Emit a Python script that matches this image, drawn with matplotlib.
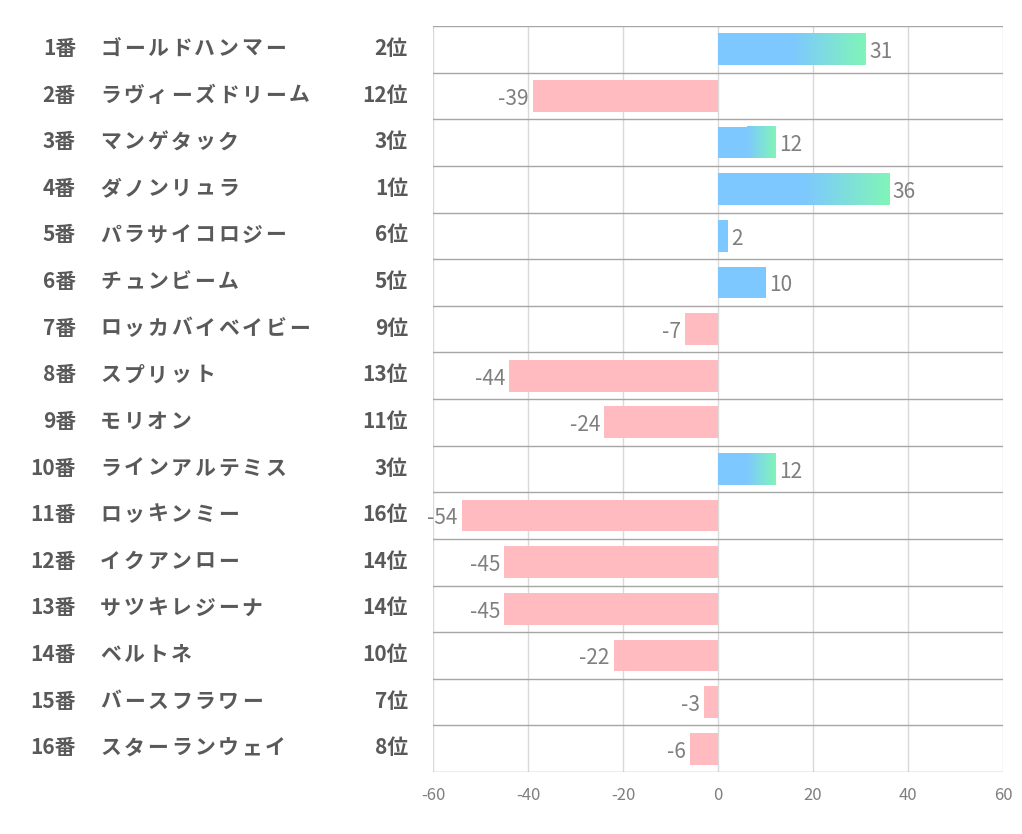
import numpy as np
import matplotlib.pyplot as plt
from matplotlib.colors import LinearSegmentedColormap
from matplotlib.transforms import offset_copy

plt.rcParams['font.family'] = ['Noto Sans CJK JP', 'DejaVu Sans']
plt.rcParams['axes.unicode_minus'] = False

# -----------------------------
# Data
# -----------------------------
numbers = ["1番", "2番", "3番", "4番", "5番", "6番", "7番", "8番",
           "9番", "10番", "11番", "12番", "13番", "14番", "15番", "16番"]
names = ["ゴールドハンマー", "ラヴィーズドリーム", "マンゲタック", "ダノンリュラ",
         "パラサイコロジー", "チュンビーム", "ロッカバイベイビー", "スプリット",
         "モリオン", "ラインアルテミス", "ロッキンミー", "イクアンロー",
         "サツキレジーナ", "ベルトネ", "バースフラワー", "スターランウェイ"]
ranks = ["2位", "12位", "3位", "1位", "6位", "5位", "9位", "13位",
         "11位", "3位", "16位", "14位", "14位", "10位", "7位", "8位"]
values = [31, -39, 12, 36, 2, 10, -7, -44, -24, 12, -54, -45, -45, -22, -3, -6]

# -----------------------------
# Styles
# -----------------------------
blue = "#7DC8FF"
green = "#80F5B8"
pink = "#FFBBBF"
label_col = "#595959"
value_col = "#7F7F7F"
bar_h = 0.68

fig = plt.figure(figsize=(10.22, 8.34), dpi=100)
ax = fig.add_axes([0.4237, 0.0743, 0.5577, 0.8945])

n = len(values)
ypos = np.arange(n)
grad = LinearSegmentedColormap.from_list("bg", [blue, green])
gimg = np.linspace(0, 1, 256).reshape(1, -1)

for y, v in zip(ypos, values):
    if v < 0:
        ax.barh(y, v, height=bar_h, color=pink, zorder=2)
        ax.text(v - 0.8, y + 0.06, str(v), ha="right", va="center",
                fontsize=15, color=value_col, zorder=4)
    else:
        if v > 10:
            ax.barh(y, v / 2 + 0.05, height=bar_h, color=blue, lw=0, zorder=2)
            ax.imshow(gimg, cmap=grad, aspect="auto", zorder=2,
                      extent=[v / 2, v, y + bar_h / 2, y - bar_h / 2])
        else:
            ax.barh(y, v, height=bar_h, color=blue, zorder=2)
        ax.text(v + 0.8, y + 0.06, str(v), ha="left", va="center",
                fontsize=15, color=value_col, zorder=4)

ax.set_xlim(-60, 60)
ax.set_ylim(n - 0.5, -0.5)
ax.set_xticks(np.arange(-60, 61, 20))
ax.set_yticks([])
ax.tick_params(axis="x", length=0, labelsize=12, labelcolor=value_col, pad=11)

# grid: light vertical lines, darker row separators
for x in np.arange(-60, 61, 20):
    ax.axvline(x, color="#D9D9D9", lw=1, zorder=1)
for b in np.arange(-0.5, n, 1):
    ax.axhline(b, color="#A6A6A6", lw=1, zorder=3)
for s in ax.spines.values():
    s.set_visible(False)

# left-hand labels (pixel offsets from the axes' left edge)
trans = ax.get_yaxis_transform()
for y, num, name, rk in zip(ypos, numbers, names, ranks):
    yy = y - 0.02
    t_num = offset_copy(trans, fig=fig, x=-(433 - 76), y=0, units="dots")
    ax.text(0.0, yy, num, transform=t_num, ha="right", va="center",
            fontsize=15, fontweight="bold", color=label_col, clip_on=False)
    for i, ch in enumerate(name):
        t_ch = offset_copy(trans, fig=fig, x=-(433 - 100) + 23.6 * i, y=0, units="dots")
        ax.text(0.0, yy, ch, transform=t_ch, ha="left", va="center",
                fontsize=15, fontweight="bold", color=label_col, clip_on=False)
    t_rk = offset_copy(trans, fig=fig, x=-(433 - 408), y=0, units="dots")
    ax.text(0.0, yy, rk, transform=t_rk, ha="right", va="center",
            fontsize=15, fontweight="bold", color=label_col, clip_on=False)

plt.savefig("out.png", dpi=100)
